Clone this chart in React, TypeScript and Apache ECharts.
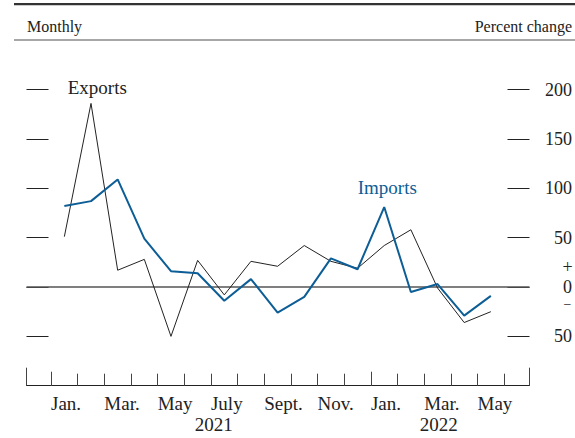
import React, { useEffect, useRef } from "react";
import * as echarts from "echarts";

// 17 monthly observations, Jan. 2021 – May 2022
const monthCategories = [
  "Jan 2021", "Feb 2021", "Mar 2021", "Apr 2021", "May 2021", "Jun 2021",
  "Jul 2021", "Aug 2021", "Sep 2021", "Oct 2021", "Nov 2021", "Dec 2021",
  "Jan 2022", "Feb 2022", "Mar 2022", "Apr 2022", "May 2022",
];
const exportsValues = [51, 186, 17, 28, -50, 27, -8, 26, 21, 42, 26, 19, 42, 58, -1, -36, -25];
const importsValues = [82, 87, 109, 49, 16, 14, -14, 8, -26, -10, 29, 18, 81, -5, 3, -29, -9];

// Axis text
const monthTickLabels = ["Jan.", "Mar.", "May", "July", "Sept.", "Nov.", "Jan.", "Mar.", "May"];
const yearLabels = ["2021", "2022"];
const yearLabelPositions = [5.6, 14.05];

const FONT = "'Liberation Serif', 'Times New Roman', serif";
const BLUE = "#0d5e96";
const INK = "#222";
const XMIN = -1.42;
const XMAX = 17.45;

export default function App() {
  const ref = useRef<HTMLDivElement>(null);

  useEffect(() => {
    if (!ref.current) return;
    const chart = echarts.init(ref.current, undefined, { renderer: "svg" });

    const monthBoundaries = monthCategories.map((_, i) => i - 0.5).concat([monthCategories.length - 0.5]);
    const labelValues = monthTickLabels.map((_, k) => -0.5 + 2 * k);
    const janBoundaries = monthCategories
      .map((m, i) => (m.startsWith("Jan") ? i - 0.5 : null))
      .filter((v) => v !== null) as number[];

    const baseX = {
      type: "value" as const,
      gridIndex: 0,
      min: XMIN,
      max: XMAX,
      position: "bottom" as const,
      offset: 0,
      splitLine: { show: false },
    };

    const baseY = {
      type: "value" as const,
      min: -100,
      max: 200,
      interval: 50,
      offset: 0,
      axisLine: { show: false, onZero: false },
      splitLine: { show: false },
      axisTick: { show: true, inside: true, length: 22, lineStyle: { color: INK, width: 1 } },
    };

    const option: any = {
      animation: false,
      backgroundColor: "#fff",
      textStyle: { fontFamily: FONT },
      grid: { left: 26.5, right: 45.5, top: 89.6, bottom: 52.3, containLabel: false },
      xAxis: [
        {
          ...baseX,
          axisLine: { show: true, onZero: false, lineStyle: { color: INK, width: 1 } },
          axisTick: {
            show: true,
            inside: true,
            length: 12,
            customValues: monthBoundaries,
            lineStyle: { color: "#444", width: 1 },
          },
          axisLabel: {
            show: true,
            customValues: labelValues,
            formatter: (v: number) => monthTickLabels[Math.round((v + 0.5) / 2)] ?? "",
            align: "left",
            margin: 8,
            fontSize: 19,
            color: INK,
            fontFamily: FONT,
          },
        },
        {
          ...baseX,
          axisLine: { show: false, onZero: false },
          axisTick: {
            show: true,
            inside: true,
            length: 14,
            customValues: janBoundaries,
            lineStyle: { color: "#444", width: 1 },
          },
          axisLabel: {
            show: true,
            customValues: yearLabelPositions,
            formatter: (v: number) => yearLabels[yearLabelPositions.indexOf(v)] ?? "",
            align: "center",
            margin: 29,
            fontSize: 19,
            color: INK,
            fontFamily: FONT,
          },
        },
        {
          ...baseX,
          axisLine: { show: false, onZero: false },
          axisTick: {
            show: true,
            inside: true,
            length: 18,
            customValues: [XMIN, XMAX],
            lineStyle: { color: "#444", width: 1 },
          },
          axisLabel: { show: false },
        },
      ],
      yAxis: [
        {
          ...baseY,
          position: "right",
          axisLabel: {
            show: true,
            formatter: (v: number) => (v === -100 ? "" : String(Math.abs(v))),
            align: "right",
            margin: 42.5,
            fontSize: 18,
            color: INK,
            fontFamily: FONT,
          },
        },
        {
          ...baseY,
          position: "left",
          axisLabel: { show: false },
        },
      ],
      series: [
        {
          name: "Exports",
          type: "line",
          xAxisIndex: 0,
          yAxisIndex: 0,
          data: exportsValues.map((v, i) => [i, v]),
          symbol: "none",
          lineStyle: { color: INK, width: 1 },
          z: 3,
          markLine: {
            silent: true,
            symbol: "none",
            label: { show: false },
            lineStyle: { color: "#555", width: 1.5, type: "solid" },
            data: [{ yAxis: 0 }],
            z: 1,
          },
        },
        {
          name: "Imports",
          type: "line",
          xAxisIndex: 0,
          yAxisIndex: 0,
          data: importsValues.map((v, i) => [i, v]),
          symbol: "none",
          lineStyle: { color: BLUE, width: 2 },
          z: 4,
        },
      ],
      graphic: [
        { type: "rect", shape: { x: 14, y: 3, width: 561, height: 2.2 }, style: { fill: "#333" } },
        { type: "rect", shape: { x: 14, y: 39.3, width: 561, height: 1.5 }, style: { fill: "#8a8a8a" } },
        {
          type: "text",
          x: 27,
          y: 26,
          style: { text: "Monthly", font: `16px ${FONT}`, fill: INK, textVerticalAlign: "middle", textAlign: "left" },
        },
        {
          type: "text",
          x: 572,
          y: 26,
          style: { text: "Percent change", font: `16px ${FONT}`, fill: INK, textVerticalAlign: "middle", textAlign: "right" },
        },
        {
          type: "text",
          x: 567.5,
          y: 267,
          style: { text: "+", font: `18px ${FONT}`, fill: INK, textVerticalAlign: "middle", textAlign: "center" },
        },
        {
          type: "text",
          x: 567.5,
          y: 304,
          style: { text: "−", font: `14px ${FONT}`, fill: INK, textVerticalAlign: "middle", textAlign: "center" },
        },
        {
          type: "text",
          x: 67.7,
          y: 87,
          style: { text: "Exports", font: `19px ${FONT}`, fill: INK, textVerticalAlign: "middle", textAlign: "left" },
        },
        {
          type: "text",
          x: 357.7,
          y: 187.3,
          style: { text: "Imports", font: `19px ${FONT}`, fill: BLUE, textVerticalAlign: "middle", textAlign: "left" },
        },
      ],
    };

    chart.setOption(option);
    return () => chart.dispose();
  }, []);

  return (
    <div
      ref={ref}
      style={{ position: "fixed", left: 0, top: 0, width: 575, height: 438, background: "#fff" }}
    />
  );
}
